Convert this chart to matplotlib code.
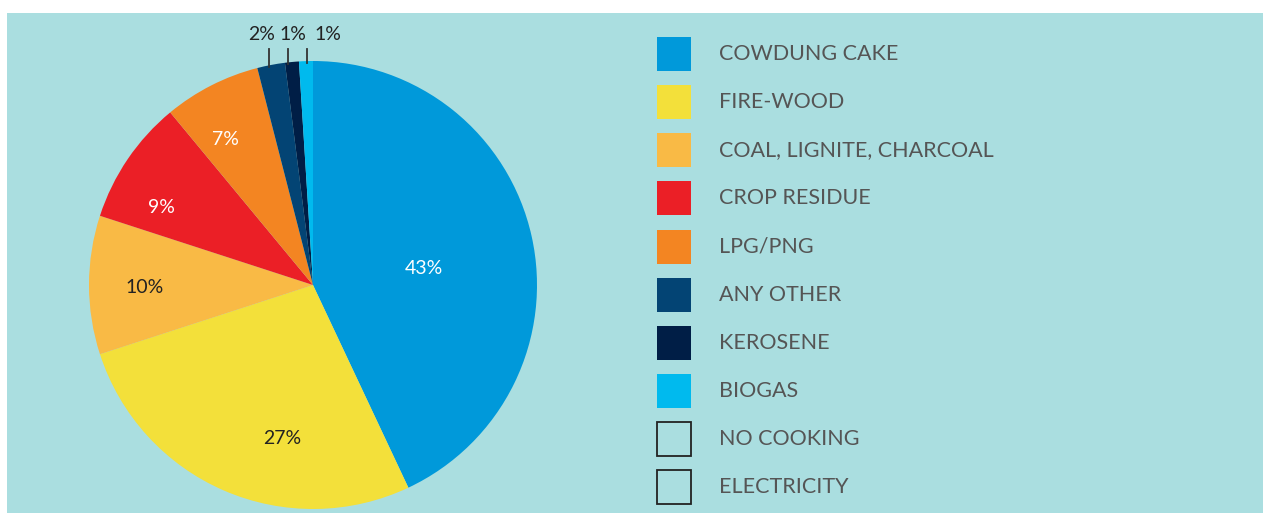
import numpy as np
import matplotlib
matplotlib.use("Agg")
import matplotlib.pyplot as plt
from matplotlib.patches import Rectangle

plt.rcParams['font.family'] = ['Lato', 'DejaVu Sans']

# Cooking fuel shares (%)
categories = ["COWDUNG CAKE", "FIRE-WOOD", "COAL, LIGNITE, CHARCOAL", "CROP RESIDUE",
              "LPG/PNG", "ANY OTHER", "KEROSENE", "BIOGAS", "NO COOKING", "ELECTRICITY"]
shares = [43, 27, 10, 9, 7, 2, 1, 1, 0, 0]
colors = ["#0099DA", "#F3E03A", "#F9BA45", "#EB1F26", "#F38522",
          "#034474", "#001E46", "#00BAEE", "none", "none"]

# label styling for the in-slice percentages (radius fraction, angle shift in degrees, colour)
inner_label_style = {0: (0.50, -4, "white"), 1: (0.70, 12, "#222222"), 2: (0.75, 1, "#222222"),
                     3: (0.76, 7, "white"), 4: (0.76, 4, "white")}
# small slices get a leader line and a label above the pie (x shift of line, x shift of label)
outer_label_shift = {5: (-2, -7), 6: (-4, 5), 7: (1, 21)}

W, H = 1263, 513
fig = plt.figure(figsize=(W / 100, H / 100), dpi=100)
ax = fig.add_axes([0, 0, 1, 1])

# panel background
ax.add_patch(Rectangle((7, 0), W - 7, H - 13, facecolor="#AADEE0", edgecolor="none", zorder=0))

cx, cy, R = 313, H - 285, 224
vals = [s for s in shares if s > 0]
wedges, _ = ax.pie(vals, colors=colors[:len(vals)], startangle=90, counterclock=False,
                   center=(cx, cy), radius=R, wedgeprops=dict(linewidth=0))

for i, w in enumerate(wedges):
    mid = np.deg2rad((w.theta1 + w.theta2) / 2)
    if i in inner_label_style:
        frac, shift, col = inner_label_style[i]
        a = mid + np.deg2rad(shift)
        ax.text(cx + frac * R * np.cos(a), cy + frac * R * np.sin(a), f"{shares[i]}%",
                ha="center", va="center", fontsize=14, color=col)
    elif i in outer_label_shift:
        dline, dlabel = outer_label_shift[i]
        x0 = cx + R * np.cos(mid) + dline
        y0 = cy + np.sqrt(R ** 2 - (x0 - cx) ** 2)
        ax.plot([x0, x0], [y0 - 2, H - 49], color="#333333", lw=1.3, zorder=3)
        ax.text(x0 + dlabel, H - 34, f"{shares[i]}%", ha="center", va="center",
                fontsize=14, color="#222222")

# legend
lx, ly0, step, sq = 657, H - 54, 48.15, 34
for k, (name, col) in enumerate(zip(categories, colors)):
    yc = ly0 - k * step
    if col == "none":
        ax.add_patch(Rectangle((lx, yc - sq / 2), sq, sq, facecolor="none",
                               edgecolor="#222222", lw=1.3))
    else:
        ax.add_patch(Rectangle((lx, yc - sq / 2), sq, sq, facecolor=col, edgecolor="none"))
    ax.text(719, yc, name, ha="left", va="center", fontsize=15.5, color="#555555")

ax.set_xlim(0, W)
ax.set_ylim(0, H)
ax.set_aspect("auto")
ax.axis("off")
fig.savefig("out.png", dpi=100, facecolor="white")
